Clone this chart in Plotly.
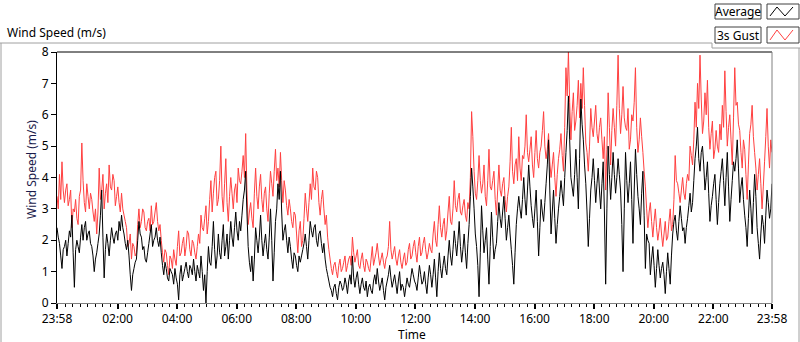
import plotly.graph_objects as go

# ---------------- data ----------------
# samples every 2.5 minutes, from 23:58 to 23:58 next day
minutes = [k * 2.5 for k in range(577)]

gust = [
    3.4, 3.0, 4.1, 3.3, 4.5, 3.6, 3.2, 3.6, 3.8, 3.1, 3.3, 3.6, 2.4, 3.0, 2.9, 3.3, 2.7, 2.5, 3.4, 3.6,
    5.1, 3.9, 3.2, 2.9, 3.8, 3.4, 3.0, 3.5, 3.3, 2.9, 2.6, 3.0, 2.2, 2.9, 4.3, 3.3, 3.6, 4.1, 3.0, 3.5,
    3.8, 3.2, 4.4, 3.7, 3.6, 4.1, 3.9, 3.1, 3.4, 3.7, 3.2, 2.9, 3.5, 3.0, 2.8, 2.6, 2.4, 1.8, 1.9, 2.2,
    1.4, 1.9, 1.8, 1.5, 1.6, 2.5, 3.0, 2.4, 2.6, 3.0, 2.9, 2.4, 2.3, 2.6, 2.7, 2.3, 3.1, 2.5, 2.6, 2.9,
    3.2, 2.6, 2.3, 2.5, 2.0, 1.6, 1.3, 1.7, 1.6, 1.2, 0.9, 1.5, 1.4, 1.1, 1.7, 1.4, 1.2, 1.8, 2.3, 1.5,
    1.6, 1.9, 2.1, 1.5, 1.8, 2.3, 2.2, 1.7, 1.5, 2.0, 1.9, 1.6, 1.4, 1.8, 2.2, 1.9, 2.8, 2.4, 2.3, 2.7,
    3.1, 2.2, 2.6, 3.3, 3.9, 2.9, 3.5, 4.0, 4.2, 3.1, 3.3, 3.9, 5.0, 3.4, 2.9, 3.8, 4.6, 3.2, 2.6, 3.4,
    4.0, 3.5, 3.0, 3.6, 3.8, 3.2, 4.3, 3.9, 3.8, 4.2, 4.7, 4.0, 5.4, 3.6, 2.5, 2.9, 3.2, 2.7, 2.4, 3.5,
    4.3, 3.4, 3.0, 3.7, 4.1, 3.3, 2.9, 3.5, 3.7, 3.0, 2.6, 3.5, 4.2, 3.8, 3.4, 4.2, 4.9, 3.9, 4.3, 3.7,
    4.8, 3.9, 3.2, 3.9, 3.6, 3.1, 2.8, 3.3, 3.0, 2.6, 2.4, 2.9, 2.8, 2.2, 1.6, 2.3, 2.6, 1.8, 2.0, 2.7,
    3.5, 3.0, 2.6, 3.2, 3.8, 3.3, 4.3, 3.7, 3.6, 4.2, 4.0, 3.2, 2.8, 3.3, 3.6, 3.0, 2.5, 2.8, 2.1, 1.7,
    1.4, 1.1, 0.9, 1.2, 1.3, 1.0, 0.8, 1.2, 1.4, 1.0, 1.1, 1.3, 1.5, 1.0, 1.2, 1.4, 1.5, 1.2, 2.1, 1.6,
    1.3, 1.5, 1.7, 1.2, 1.1, 1.4, 1.6, 1.2, 1.0, 1.4, 1.3, 1.1, 1.0, 1.4, 1.8, 1.2, 1.4, 1.6, 1.9, 1.5,
    1.2, 1.4, 1.6, 1.3, 1.1, 1.4, 1.5, 1.8, 2.6, 1.7, 1.4, 1.6, 1.8, 1.4, 1.2, 1.5, 1.7, 1.3, 1.1, 1.4,
    1.6, 1.2, 1.3, 1.7, 1.9, 1.4, 1.5, 1.8, 2.0, 1.6, 1.3, 1.8, 2.1, 1.5, 1.6, 1.9, 2.1, 1.7, 1.4, 1.6,
    1.9, 1.7, 1.6, 2.2, 2.6, 2.0, 1.8, 2.5, 3.1, 2.4, 2.1, 2.5, 2.7, 2.0, 2.3, 2.9, 3.4, 2.6, 2.5, 3.0,
    3.9, 3.1, 2.9, 3.3, 3.5, 2.9, 2.8, 3.1, 3.3, 2.8, 2.6, 3.2, 3.0, 4.0, 6.1, 5.3, 4.2, 3.5, 3.3, 3.9,
    4.7, 3.9, 3.5, 3.8, 4.4, 3.4, 3.1, 3.9, 4.9, 3.7, 3.6, 3.9, 4.2, 3.3, 2.8, 3.6, 4.4, 3.6, 3.4, 3.8,
    4.0, 3.3, 2.9, 3.4, 3.7, 4.5, 5.6, 4.2, 3.8, 4.4, 4.6, 3.9, 5.3, 4.3, 3.9, 4.7, 4.6, 5.0, 6.0, 4.8,
    4.5, 4.9, 5.3, 4.4, 4.0, 4.8, 5.5, 4.6, 4.3, 4.8, 5.0, 5.5, 6.1, 5.0, 4.6, 4.9, 5.4, 4.5, 4.0, 4.4,
    4.8, 4.0, 3.4, 4.1, 4.6, 4.9, 5.4, 4.7, 4.2, 5.6, 7.5, 6.6, 8.0, 6.4, 5.2, 6.1, 6.7, 5.5, 5.8, 6.3,
    7.1, 5.9, 7.0, 6.2, 7.5, 6.3, 5.1, 4.8, 4.2, 5.0, 6.2, 5.6, 5.3, 5.8, 6.3, 5.4, 5.1, 5.6, 5.9, 5.2,
    4.6, 5.3, 3.6, 4.9, 6.7, 5.6, 4.4, 5.5, 6.2, 5.6, 5.0, 6.3, 7.9, 6.2, 5.4, 6.0, 6.9, 5.9, 5.6, 5.5,
    6.2, 4.9, 5.2, 6.0, 5.8, 6.4, 7.5, 5.6, 4.8, 5.2, 5.9, 5.3, 4.8, 4.2, 3.7, 3.0, 2.4, 2.9, 3.2, 2.6,
    2.1, 2.6, 3.0, 2.4, 2.0, 2.3, 2.7, 2.2, 1.8, 2.2, 2.6, 2.0, 2.1, 2.6, 3.0, 2.3, 2.5, 3.3, 4.7, 3.9,
    3.8, 3.5, 3.2, 3.6, 4.0, 3.5, 3.3, 3.8, 4.1, 3.9, 5.0, 4.7, 4.4, 5.2, 6.4, 5.6, 7.0, 6.2, 7.9, 6.5,
    5.4, 5.8, 6.7, 6.0, 7.1, 5.6, 4.9, 5.4, 5.8, 4.6, 4.9, 5.5, 5.0, 4.8, 5.7, 5.2, 6.3, 5.6, 7.4, 6.1,
    5.0, 5.6, 6.0, 5.2, 4.4, 5.9, 7.5, 6.3, 6.4, 5.7, 5.5, 4.8, 4.3, 5.2, 4.9, 4.1, 3.3, 4.4, 5.4, 5.7,
    6.3, 5.3, 4.8, 4.3, 3.6, 4.1, 4.6, 3.8, 3.0, 3.7, 4.5, 5.3, 6.2, 5.0, 4.3, 5.2, 4.8,
]

average = [
    2.4, 2.1, 1.9, 1.5, 1.1, 1.7, 1.8, 2.0, 1.5, 1.9, 2.3, 2.1, 2.8, 1.6, 0.5, 1.7, 2.0, 1.8, 1.6, 2.1,
    2.5, 2.0, 2.4, 2.6, 2.0, 2.2, 2.3, 1.9, 1.8, 1.5, 1.0, 1.4, 1.6, 1.9, 2.2, 2.8, 3.6, 2.1, 0.8, 1.7,
    2.2, 1.9, 1.5, 2.0, 2.4, 2.1, 1.9, 2.2, 2.3, 2.0, 2.6, 2.3, 2.8, 2.4, 2.2, 1.9, 1.7, 2.0, 1.5, 0.9,
    0.4, 0.9, 1.1, 1.3, 1.4, 2.0, 2.6, 2.2, 2.1, 1.7, 1.8, 1.4, 1.3, 1.6, 1.9, 2.2, 2.5, 1.8, 2.0, 2.1,
    2.4, 2.0, 1.8, 2.1, 1.6, 1.2, 0.9, 1.3, 1.1, 0.8, 0.7, 1.1, 1.0, 0.9, 0.6, 1.1, 0.8, 0.6, 0.1, 0.9,
    1.2, 0.7, 0.9, 1.1, 1.3, 1.0, 0.8, 1.2, 1.1, 0.9, 1.4, 1.0, 0.7, 1.2, 1.0, 0.8, 1.5, 1.0, 0.4, 0.9,
    0.0, 1.0, 1.8, 1.3, 1.2, 1.8, 2.6, 1.7, 1.1, 1.5, 2.2, 1.6, 1.4, 2.0, 2.5, 1.5, 1.8, 2.2, 1.4, 2.0,
    2.6, 2.1, 1.8, 2.4, 2.9, 2.3, 2.0, 2.6, 2.3, 2.8, 3.3, 3.6, 4.2, 2.9, 1.8, 1.3, 1.0, 1.5, 0.7, 1.4,
    2.4, 2.0, 1.6, 2.1, 2.8, 2.0, 1.5, 1.9, 2.2, 1.7, 1.4, 2.1, 3.0, 2.0, 0.7, 1.6, 2.6, 3.0, 3.8, 3.3,
    4.2, 2.9, 2.0, 2.3, 2.5, 2.0, 1.6, 2.1, 1.8, 1.4, 1.1, 1.6, 1.5, 1.2, 1.0, 1.5, 1.3, 1.5, 1.7, 1.9,
    2.2, 1.8, 1.4, 2.0, 2.6, 2.3, 2.1, 2.4, 2.5, 2.0, 1.8, 2.2, 2.3, 1.9, 1.6, 1.9, 1.4, 1.1, 0.9, 0.7,
    0.5, 0.4, 0.2, 0.5, 0.6, 0.3, 0.1, 0.5, 0.7, 0.6, 0.4, 0.5, 0.8, 0.6, 0.3, 0.7, 0.9, 0.6, 1.5, 0.8,
    0.5, 0.8, 1.0, 0.6, 0.3, 0.6, 0.8, 0.5, 0.4, 0.7, 0.2, 0.5, 0.6, 0.4, 0.3, 0.7, 0.9, 0.6, 1.1, 0.7,
    0.4, 0.6, 0.8, 0.4, 0.1, 0.5, 0.7, 0.9, 1.2, 0.8, 0.5, 0.7, 0.9, 0.6, 0.3, 0.7, 1.0, 0.4, 0.6, 0.5,
    0.2, 0.5, 0.8, 0.6, 0.5, 0.8, 1.1, 0.9, 0.7, 0.6, 0.4, 0.8, 1.2, 0.9, 0.6, 0.7, 1.0, 0.6, 0.3, 0.8,
    1.2, 0.9, 0.5, 0.9, 1.4, 0.8, 0.2, 1.0, 1.6, 1.1, 0.8, 1.2, 1.5, 1.1, 0.9, 1.5, 2.0, 1.5, 1.2, 1.7,
    2.3, 1.9, 1.5, 2.0, 2.6, 1.8, 1.3, 1.7, 2.2, 1.6, 1.1, 1.9, 2.5, 3.4, 4.3, 3.7, 3.0, 2.2, 1.8, 1.2,
    0.2, 1.6, 3.1, 2.3, 1.6, 2.0, 2.4, 1.4, 0.6, 1.8, 2.9, 2.1, 1.4, 1.7, 1.9, 2.6, 3.2, 2.7, 2.4, 2.9,
    3.4, 2.7, 2.0, 2.4, 2.8, 2.2, 1.7, 1.2, 0.6, 1.6, 2.5, 3.0, 3.4, 3.0, 2.7, 3.3, 4.0, 3.3, 2.8, 3.6,
    4.4, 3.7, 3.1, 2.7, 2.4, 3.0, 3.6, 2.6, 1.5, 2.4, 3.3, 2.9, 2.6, 3.2, 3.8, 4.4, 5.2, 3.6, 2.2, 2.9,
    3.6, 2.7, 1.9, 2.5, 3.0, 3.4, 3.9, 3.5, 3.1, 4.0, 4.8, 5.5, 6.6, 5.2, 4.0, 3.7, 3.4, 4.1, 4.9, 4.0,
    3.0, 4.6, 6.5, 5.7, 5.2, 4.4, 3.8, 2.9, 1.8, 2.7, 3.6, 4.0, 4.6, 3.9, 3.2, 3.8, 4.3, 3.6, 3.0, 3.8,
    4.5, 2.9, 0.6, 3.0, 5.0, 4.1, 3.3, 4.0, 4.8, 4.1, 3.5, 4.0, 4.6, 4.1, 3.6, 2.5, 1.0, 3.0, 4.8, 3.9,
    3.2, 3.8, 4.5, 3.3, 1.9, 3.6, 4.9, 4.1, 3.4, 3.0, 2.5, 3.5, 4.2, 2.8, 1.1, 2.2, 2.0, 1.9, 0.9, 1.4,
    1.8, 1.2, 0.5, 1.1, 1.7, 1.2, 0.8, 1.1, 1.3, 0.9, 0.3, 1.0, 1.6, 1.1, 0.6, 1.5, 2.2, 2.6, 2.8, 2.3,
    2.0, 2.6, 3.1, 2.7, 2.3, 2.4, 1.9, 2.4, 2.7, 3.1, 3.5, 2.9, 3.2, 3.9, 4.6, 5.0, 5.6, 4.6, 4.2, 4.8,
    5.0, 4.4, 3.6, 4.0, 4.5, 3.5, 2.6, 3.1, 3.4, 3.8, 4.1, 3.3, 2.5, 3.2, 3.8, 4.2, 4.6, 3.9, 3.1, 4.0,
    4.8, 3.7, 2.6, 3.3, 3.9, 4.5, 4.2, 4.6, 5.2, 4.3, 3.2, 3.7, 4.0, 3.3, 2.8, 2.4, 1.8, 2.7, 3.6, 3.0,
    2.2, 3.2, 4.1, 3.4, 2.4, 1.9, 1.4, 2.2, 2.8, 2.5, 1.9, 2.8, 3.6, 3.2, 2.7, 3.0, 3.8,
]

tick_minutes = [0, 122, 242, 362, 482, 602, 722, 842, 962, 1082, 1202, 1322, 1440]
tick_labels = ["23:58", "02:00", "04:00", "06:00", "08:00", "10:00", "12:00",
               "14:00", "16:00", "18:00", "20:00", "22:00", "23:58"]
minor_minutes = [m for m in range(17, 1440, 15) if m not in tick_minutes]

series_names = ["Average", "3s Gust"]
series_colors = ["#000000", "#ff4040"]

# ---------------- layout geometry (pixels) ----------------
W, H = 800, 342
L, R, T, B = 57, 772, 52, 303


def px(x):
    return (x - L) / (R - L)


def py(y):
    return (B - y) / (B - T)


FONT = "Noto Sans"

fig = go.Figure()
fig.add_trace(go.Scatter(x=minutes, y=gust, mode="lines", name=series_names[1],
                         line=dict(color=series_colors[1], width=1, simplify=False),
                         hoverinfo="skip", showlegend=False))
fig.add_trace(go.Scatter(x=minutes, y=average, mode="lines", name=series_names[0],
                         line=dict(color=series_colors[0], width=1, simplify=False),
                         hoverinfo="skip", showlegend=False))

shapes = []
# plot frame: top black, right gray
shapes.append(dict(type="line", xref="paper", yref="paper", x0=0, x1=1, y0=1, y1=1,
                   line=dict(color="#000000", width=1)))
shapes.append(dict(type="line", xref="paper", yref="paper", x0=1, x1=1, y0=0, y1=1,
                   line=dict(color="#808080", width=1)))
# outer gray frame
gray = "#a0a0a0"
for (x0, y0, x1, y1) in [(0, 43, 712, 43), (712, 43, 712, 48), (712, 48, 800, 48),
                         (799, 48, 799, 342), (1, 43, 1, 342)]:
    shapes.append(dict(type="line", xref="paper", yref="paper",
                       x0=px(x0), y0=py(y0), x1=px(x1), y1=py(y1),
                       line=dict(color=gray, width=1)))
# legend boxes
box_rows = [(4, 19), (27, 43)]
for (ya, yb), col in zip(box_rows, series_colors):
    shapes.append(dict(type="rect", xref="paper", yref="paper",
                       x0=px(715), x1=px(761), y0=py(yb), y1=py(ya),
                       line=dict(color="#404040", width=1), fillcolor="white"))
    shapes.append(dict(type="rect", xref="paper", yref="paper",
                       x0=px(767), x1=px(799), y0=py(yb), y1=py(ya),
                       line=dict(color="#404040", width=1), fillcolor="white"))
    pts = [(770, yb - 3), (777, ya + 3), (785, yb - 3), (793, ya + 3)]
    path = "M " + " L ".join(f"{px(a):.5f},{py(b):.5f}" for a, b in pts)
    shapes.append(dict(type="path", xref="paper", yref="paper", path=path,
                       line=dict(color=col, width=1)))

annotations = []
annotations.append(dict(text="Wind Speed (m/s)", xref="paper", yref="paper",
                        x=px(5), y=py(32), xanchor="left", yanchor="middle",
                        showarrow=False, font=dict(family=FONT, size=12, color="#000000")))
annotations.append(dict(text="Wind Speed (m/s)", xref="paper", yref="paper",
                        x=px(31), y=py(170), xanchor="center", yanchor="middle",
                        textangle=-90, showarrow=False,
                        font=dict(family=FONT, size=12, color="#1b1b4b")))
annotations.append(dict(text="Time", xref="paper", yref="paper",
                        x=px(412), y=py(334), xanchor="center", yanchor="middle",
                        showarrow=False, font=dict(family=FONT, size=12, color="#000000")))
for (ya, yb), name in zip(box_rows, series_names):
    annotations.append(dict(text=name, xref="paper", yref="paper",
                            x=px(738), y=py((ya + yb) / 2), xanchor="center", yanchor="middle",
                            showarrow=False, font=dict(family=FONT, size=12, color="#000000")))

fig.update_layout(
    width=W, height=H,
    margin=dict(l=L, r=W - R, t=T, b=H - B, pad=0),
    paper_bgcolor="white", plot_bgcolor="white",
    showlegend=False,
    shapes=shapes, annotations=annotations,
    xaxis=dict(range=[0, 1440], showgrid=False, zeroline=False,
               showline=True, linecolor="#808080", linewidth=1,
               ticks="outside", ticklen=5, tickwidth=2, tickcolor="#000000",
               tickmode="array", tickvals=tick_minutes, ticktext=tick_labels,
               tickfont=dict(family=FONT, size=12, color="#000000"),
               minor=dict(ticks="outside", ticklen=3, tickwidth=1, tickcolor="#000000",
                          tickmode="array", tickvals=minor_minutes, showgrid=False)),
    yaxis=dict(range=[0, 8], showgrid=False, zeroline=False,
               showline=True, linecolor="#000000", linewidth=1,
               ticks="outside", ticklen=5, tickwidth=1, tickcolor="#000000",
               tickmode="linear", tick0=0, dtick=1,
               tickfont=dict(family=FONT, size=12, color="#000000")),
)

fig.write_html("out.html", config={"displayModeBar": False},
               post_script="document.body.style.margin='0';document.body.style.padding='0';"
                           "document.body.style.overflow='hidden';")
